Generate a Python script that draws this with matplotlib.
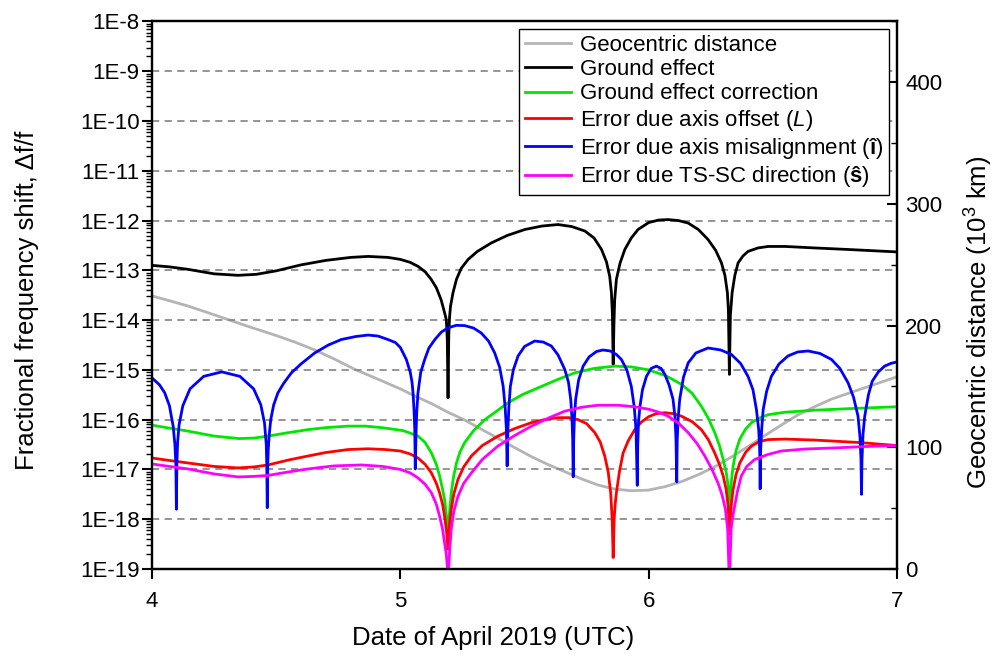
import numpy as np
import matplotlib.pyplot as plt
from matplotlib.ticker import FuncFormatter, LogLocator, MultipleLocator, NullFormatter

plt.rcParams['font.family'] = ['Liberation Sans', 'DejaVu Sans']
plt.rcParams['mathtext.fontset'] = 'custom'
plt.rcParams['mathtext.rm'] = 'Liberation Sans'
plt.rcParams['mathtext.it'] = 'Liberation Sans:italic'
plt.rcParams['mathtext.bf'] = 'Liberation Sans:bold'

# geocentric distance (10^3 km), right axis
dist_x = [4.00, 4.07, 4.145, 4.22, 4.306, 4.40, 4.494, 4.575, 4.655, 4.735, 4.816, 4.91,
          5.00, 5.06, 5.125, 5.19, 5.259, 5.325, 5.393, 5.46, 5.528, 5.595, 5.662, 5.73,
          5.796, 5.86, 5.93, 5.998, 6.065, 6.132, 6.20, 6.266, 6.333, 6.40, 6.467,
          6.534, 6.60, 6.669, 6.735, 6.803, 6.90, 7.0]
dist_km = [224.4, 220.5, 216.1, 211, 205, 198.5, 192.3, 186.5, 180, 172.5, 164.1, 156,
           148, 142, 136, 129, 122.4, 115, 107.4, 99.8, 92.3, 85.8, 80, 74,
           69, 65.8, 64.3, 64.8, 67.6, 71.8, 77.5, 84, 92, 100.5, 109.5,
           118.3, 126.5, 133.4, 139.5, 144.3, 151, 158]

# all shifts below are log10 of |delta f / f|
ground_x = [4.00, 4.07, 4.145, 4.25, 4.346, 4.42, 4.50, 4.60, 4.70, 4.80, 4.87, 4.95,
            5.00, 5.04, 5.071, 5.10, 5.124, 5.145, 5.164, 5.178, 5.185, 5.189, 5.192,
            5.195, 5.198, 5.202, 5.212, 5.226, 5.245, 5.273, 5.31, 5.366, 5.43, 5.501,
            5.57, 5.635, 5.69, 5.743, 5.78, 5.81, 5.83, 5.843, 5.85, 5.854, 5.857,
            5.860, 5.863, 5.870, 5.885, 5.904, 5.93, 5.957, 6.00, 6.04, 6.078, 6.12,
            6.159, 6.20, 6.239, 6.27, 6.293, 6.307, 6.317, 6.321, 6.325, 6.329, 6.336,
            6.347, 6.36, 6.38, 6.40, 6.44, 6.481, 6.55, 6.669, 6.8, 7.0]
ground_exp = [-12.90, -12.93, -12.98, -13.07, -13.10, -13.08, -13.01, -12.89, -12.80,
              -12.74, -12.72, -12.74, -12.78, -12.84, -12.92, -13.03, -13.18, -13.35,
              -13.59, -13.85, -13.99, -14.4, -15.56, -14.3, -13.95, -13.72, -13.45,
              -13.18, -12.96, -12.78, -12.62, -12.45, -12.30, -12.18, -12.11, -12.08,
              -12.12, -12.21, -12.35, -12.58, -12.83, -13.12, -13.45, -13.9, -14.89,
              -14.1, -13.6, -13.18, -12.85, -12.58, -12.35, -12.18, -12.04, -11.99,
              -11.98, -12.0, -12.05, -12.18, -12.38, -12.6, -12.85, -13.1, -13.45,
              -13.8, -15.09, -13.9, -13.45, -13.1, -12.85, -12.71, -12.62, -12.55,
              -12.52, -12.52, -12.55, -12.58, -12.63]

corr_x = [4.00, 4.07, 4.145, 4.25, 4.35, 4.41, 4.467, 4.55, 4.628, 4.70, 4.789, 4.86,
          4.924, 4.97, 5.011, 5.045, 5.071, 5.10, 5.125, 5.145, 5.158, 5.17, 5.178,
          5.185, 5.189, 5.192, 5.195, 5.199, 5.205, 5.214, 5.226, 5.24, 5.259, 5.295,
          5.34, 5.39, 5.434, 5.49, 5.555, 5.63, 5.702, 5.78, 5.863, 5.93, 6.00, 6.07,
          6.132, 6.175, 6.212, 6.24, 6.266, 6.285, 6.30, 6.312, 6.32, 6.325, 6.33,
          6.335, 6.34, 6.352, 6.367, 6.39, 6.414, 6.445, 6.481, 6.55, 6.669, 6.8, 7.0]
corr_exp = [-16.11, -16.17, -16.23, -16.33, -16.38, -16.37, -16.33, -16.26, -16.20,
            -16.16, -16.13, -16.13, -16.16, -16.19, -16.22, -16.28, -16.33, -16.46,
            -16.67, -16.9, -17.13, -17.4, -17.6, -17.9, -18.1, -18.3, -18.1, -17.8,
            -17.47, -17.15, -16.87, -16.65, -16.46, -16.22, -16.0, -15.82, -15.66,
            -15.5, -15.36, -15.2, -15.06, -14.97, -14.925, -14.94, -15.00, -15.12,
            -15.29, -15.47, -15.73, -15.97, -16.26, -16.52, -16.8, -17.05, -17.33,
            -17.8, -17.4, -17.15, -16.93, -16.62, -16.39, -16.19, -16.06, -15.97,
            -15.9, -15.85, -15.81, -15.78, -15.74]

offset_x = [4.00, 4.07, 4.145, 4.25, 4.346, 4.41, 4.467, 4.55, 4.628, 4.70, 4.79, 4.87,
            4.94, 5.00, 5.04, 5.071, 5.10, 5.125, 5.145, 5.158, 5.17, 5.178, 5.185,
            5.189, 5.192, 5.195, 5.199, 5.205, 5.215, 5.232, 5.255, 5.286, 5.33, 5.393,
            5.46, 5.528, 5.58, 5.635, 5.68, 5.716, 5.75, 5.783, 5.805, 5.823, 5.837,
            5.847, 5.853, 5.857, 5.861, 5.865, 5.870, 5.882, 5.897, 5.918, 5.944, 5.97,
            6.00, 6.03, 6.065, 6.10, 6.132, 6.175, 6.212, 6.24, 6.266, 6.285, 6.30,
            6.312, 6.32, 6.325, 6.33, 6.334, 6.34, 6.352, 6.367, 6.39, 6.414, 6.445,
            6.481, 6.55, 6.669, 6.85, 7.0]
offset_exp = [-16.77, -16.82, -16.87, -16.94, -16.97, -16.95, -16.91, -16.81, -16.73,
              -16.66, -16.60, -16.585, -16.60, -16.63, -16.69, -16.77, -16.9, -17.07,
              -17.28, -17.47, -17.7, -17.94, -18.2, -18.4, -18.6, -18.35, -18.05, -17.8,
              -17.5, -17.2, -16.95, -16.73, -16.52, -16.33, -16.18, -16.06, -16.0,
              -15.96, -15.96, -16.0, -16.08, -16.26, -16.45, -16.73, -17.05, -17.47,
              -18.0, -18.77, -18.0, -17.7, -17.47, -17.05, -16.67, -16.42, -16.2, -16.05,
              -15.94, -15.88, -15.86, -15.88, -15.93, -16.04, -16.2, -16.4, -16.67,
              -16.9, -17.13, -17.4, -17.74, -18.3, -17.9, -17.65, -17.4, -17.1, -16.87,
              -16.66, -16.53, -16.44, -16.4, -16.39, -16.41, -16.46, -16.52]

misal_x = [4.004, 4.03, 4.051, 4.07, 4.085, 4.092, 4.096, 4.098, 4.100, 4.103, 4.109,
           4.124, 4.153, 4.208, 4.281, 4.354, 4.409, 4.438, 4.453, 4.460, 4.462, 4.464,
           4.466, 4.468, 4.472, 4.478, 4.49, 4.507, 4.53, 4.561, 4.60, 4.655, 4.71,
           4.762, 4.82, 4.87, 4.91, 4.95, 4.98, 5.00, 5.024, 5.04, 5.047, 5.051, 5.055,
           5.058, 5.06, 5.0635, 5.066, 5.071, 5.082, 5.098, 5.115, 5.139, 5.165, 5.192,
           5.225, 5.259, 5.295, 5.326, 5.355, 5.38, 5.40, 5.414, 5.422, 5.427, 5.43,
           5.433, 5.437, 5.443, 5.455, 5.474, 5.50, 5.541, 5.575, 5.608, 5.635, 5.662,
           5.677, 5.686, 5.691, 5.694, 5.696, 5.698, 5.701, 5.706, 5.718, 5.736, 5.76,
           5.79, 5.816, 5.845, 5.87, 5.890, 5.912, 5.93, 5.942, 5.949, 5.954, 5.956,
           5.959, 5.965, 5.975, 5.991, 6.01, 6.031, 6.05, 6.065, 6.082, 6.098, 6.106,
           6.11, 6.113, 6.115, 6.119, 6.125, 6.14, 6.159, 6.19, 6.239, 6.29, 6.333,
           6.37, 6.40, 6.42, 6.434, 6.443, 6.447, 6.449, 6.451, 6.455, 6.461, 6.475,
           6.494, 6.525, 6.561, 6.60, 6.642, 6.69, 6.736, 6.77, 6.803, 6.825, 6.843,
           6.851, 6.855, 6.857, 6.859, 6.863, 6.87, 6.885, 6.90, 6.925, 6.95, 6.975, 7.0]
misal_exp = [-15.18, -15.3, -15.46, -15.72, -16.13, -16.5, -16.9, -17.80, -16.9, -16.45,
             -16.1, -15.72, -15.38, -15.13, -15.04, -15.13, -15.38, -15.70, -16.07,
             -16.5, -16.9, -17.77, -16.9, -16.6, -16.3, -16.0, -15.7, -15.46, -15.27,
             -15.06, -14.88, -14.66, -14.5, -14.39, -14.33, -14.30, -14.32, -14.39,
             -14.45, -14.55, -14.79, -15.05, -15.25, -15.46, -15.8, -16.2, -16.99,
             -16.2, -15.85, -15.46, -15.05, -14.79, -14.56, -14.39, -14.24, -14.155,
             -14.105, -14.11, -14.16, -14.26, -14.42, -14.66, -14.95, -15.33, -15.75,
             -16.2, -16.93, -16.2, -15.75, -15.33, -15.0, -14.72, -14.53, -14.42,
             -14.44, -14.52, -14.7, -14.99, -15.25, -15.59, -15.95, -16.4, -17.15,
             -16.4, -15.95, -15.59, -15.2, -14.925, -14.74, -14.63, -14.60, -14.62,
             -14.69, -14.79, -15.0, -15.33, -15.75, -16.2, -17.32, -16.5, -16.05,
             -15.73, -15.4, -15.13, -14.97, -14.925, -14.97, -15.09, -15.3, -15.59,
             -15.95, -16.4, -17.25, -16.4, -15.95, -15.59, -15.15, -14.86, -14.66,
             -14.56, -14.6, -14.69, -14.87, -15.13, -15.4, -15.8, -16.2, -16.6, -17.39,
             -16.6, -16.2, -15.8, -15.43, -15.13, -14.88, -14.72, -14.64, -14.62,
             -14.67, -14.79, -14.97, -15.26, -15.55, -15.93, -16.35, -16.8, -17.50,
             -16.8, -16.3, -15.93, -15.5, -15.23, -15.04, -14.925, -14.87, -14.84]

dir_x = [4.00, 4.07, 4.145, 4.25, 4.346, 4.41, 4.467, 4.55, 4.628, 4.73, 4.843, 4.93,
         5.00, 5.04, 5.071, 5.10, 5.125, 5.145, 5.158, 5.17, 5.178, 5.185, 5.189, 5.192,
         5.195, 5.199, 5.205, 5.215, 5.232, 5.255, 5.286, 5.33, 5.393, 5.46, 5.528, 5.6,
         5.662, 5.73, 5.796, 5.877, 5.94, 6.00, 6.04, 6.078, 6.12, 6.159, 6.195, 6.226,
         6.255, 6.279, 6.296, 6.309, 6.318, 6.325, 6.332, 6.337, 6.344, 6.357, 6.373,
         6.395, 6.427, 6.48, 6.534, 6.63, 6.736, 6.87, 7.0]
dir_exp = [-16.89, -16.94, -16.99, -17.09, -17.15, -17.14, -17.12, -17.05, -16.99,
           -16.93, -16.91, -16.94, -17.0, -17.07, -17.17, -17.3, -17.47, -17.7, -17.94,
           -18.2, -18.47, -18.7, -18.95, -19.3, -18.95, -18.6, -18.2, -17.85, -17.54,
           -17.28, -17.07, -16.8, -16.53, -16.32, -16.13, -15.96, -15.83, -15.75,
           -15.71, -15.71, -15.74, -15.79, -15.85, -15.93, -16.07, -16.26, -16.48,
           -16.73, -17.0, -17.27, -17.52, -17.8, -18.2, -19.3, -18.2, -18.0, -17.8,
           -17.45, -17.13, -16.94, -16.8, -16.7, -16.63, -16.59, -16.57, -16.54, -16.52]

fig = plt.figure(figsize=(9.97, 6.59), dpi=100)
ax = fig.add_axes([0.1525, 0.1366, 0.7472, 0.8308])
ax2 = ax.twinx()

lw = 2.0
g, = ax2.plot(dist_x, dist_km, color='#b4b4b4', lw=lw, label='Geocentric distance')
l1, = ax.plot(ground_x, 10 ** np.array(ground_exp), color='black', lw=lw, label='Ground effect')
l2, = ax.plot(corr_x, 10 ** np.array(corr_exp), color='#00e600', lw=lw, label='Ground effect correction')
l3, = ax.plot(offset_x, 10 ** np.array(offset_exp), color='#ff0000', lw=lw,
              label='Error due axis offset ($\\mathit{L}$)')
l4, = ax.plot(misal_x, 10 ** np.array(misal_exp), color='#0000ff', lw=lw,
              label='Error due axis misalignment ($\\mathbf{\u00ee}$)')
l5, = ax.plot(dir_x, 10 ** np.array(dir_exp), color='#ff00ff', lw=lw,
              label='Error due TS-SC direction ($\\mathbf{\u015d}$)')

ax.set_zorder(ax2.get_zorder() + 1)
ax.patch.set_visible(False)

ax.set_xlim(4, 7)
ax.set_xticks([4, 5, 6, 7])
ax.set_yscale('log')
ax.set_ylim(1e-19, 1e-8)
ax.set_yticks(10.0 ** np.arange(-19, -7))
ax.yaxis.set_major_formatter(FuncFormatter(lambda v, p: '1E%d' % round(np.log10(v))))
ax.yaxis.set_minor_locator(LogLocator(base=10, subs=np.arange(2, 10) * 1.0, numticks=30))
ax.yaxis.set_minor_formatter(NullFormatter())
ax.yaxis.grid(True, which='major', ls=(0, (4, 3)), color='#8c8c8c', lw=1.3)
ax.tick_params(axis='both', which='major', direction='out', length=7, width=1.5,
               labelsize=16, right=False, top=False)
ax.tick_params(axis='y', which='major', pad=2)
ax.tick_params(axis='x', which='major', pad=9)
ax.tick_params(axis='y', which='minor', direction='out', length=4, width=1, right=False)

ax2.set_ylim(0, 450)
ax2.set_yticks([0, 100, 200, 300, 400])
ax2.yaxis.set_minor_locator(MultipleLocator(50))
ax2.tick_params(axis='y', which='major', direction='in', length=7, width=1.5,
                labelsize=16, pad=6)
ax2.tick_params(axis='y', which='minor', direction='in', length=4, width=1)

for a in (ax, ax2):
    for s in a.spines.values():
        s.set_linewidth(1.6)

ax.set_xlabel('Date of April 2019 (UTC)', fontsize=18.5)
ax.xaxis.set_label_coords(0.458, -0.105)
ax.set_ylabel('Fractional frequency shift, \u0394f/f', fontsize=18.5)
ax.yaxis.set_label_coords(-0.152, 0.49)
ax2.set_ylabel('Geocentric distance (10$^3$ km)', fontsize=18.5)
ax2.yaxis.set_label_coords(1.088, 0.45)

handles = [g, l1, l2, l3, l4, l5]
leg = ax.legend(handles, [h.get_label() for h in handles], loc='upper right',
                fontsize=16, fancybox=False, edgecolor='black', framealpha=1,
                borderaxespad=0.35, handlelength=2.1, labelspacing=0.15,
                borderpad=0.25, handletextpad=0.4)
leg.get_frame().set_linewidth(1.0)

fig.savefig('out.png', dpi=100)
